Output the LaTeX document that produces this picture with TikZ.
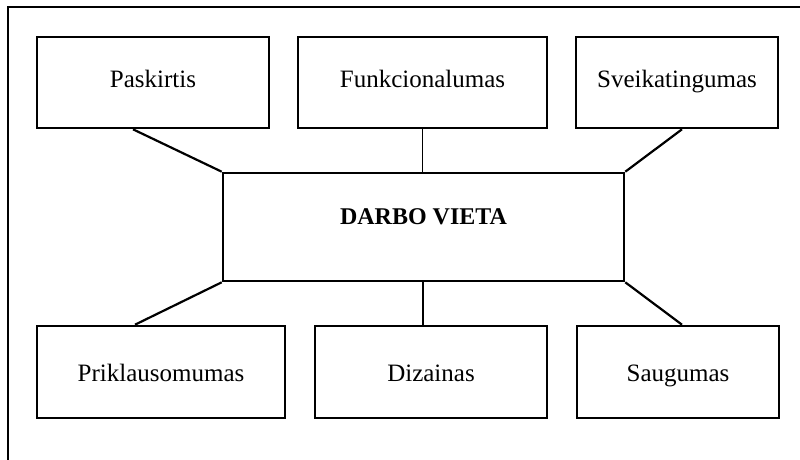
\documentclass[tikz,border=0pt]{standalone}
\usepackage{fontspec}
\setmainfont{Liberation Serif}
\usetikzlibrary{calc}
\tikzstyle{box}=[rectangle,draw=black,line width=2.6pt,inner sep=3pt,
  font=\fontsize{25}{30}\selectfont]
\tikzstyle{topbox}=[box,minimum height=91pt,text height=16.5pt,text depth=5.5pt]
\tikzstyle{botbox}=[box,minimum height=92pt,text height=21pt,text depth=3pt]
\tikzstyle{main}=[rectangle,draw=black,line width=2.6pt,
  minimum width=401pt,minimum height=108pt]
\tikzstyle{thickline}=[line width=2.2pt]
\tikzstyle{thinline}=[line width=1.3pt]
\tikzstyle{none}=[]

\begin{document}
\begin{tikzpicture}[x=1pt,y=-1pt]
            \useasboundingbox (0,0) rectangle (800,460);
            \draw [line width=2.6pt] (8,460) -- (8,7) -- (800,7);
            \node [style=main] (0) at (423.5, 227) {};
            \node [style=none, font=\fontsize{24}{28}\selectfont\bfseries] (7) at (423.5, 217) {DARBO VIETA};
            \node [style=topbox, minimum width=232pt] (1) at (153, 82.5) {Paskirtis};
            \node [style=topbox, minimum width=249pt] (2) at (422.5, 82.5) {Funkcionalumas};
            \node [style=topbox, minimum width=202pt] (3) at (677, 82.5) {Sveikatingumas};
            \node [style=botbox, minimum width=248pt] (4) at (161, 372) {Priklausomumas};
            \node [style=botbox, minimum width=232pt] (5) at (431, 372) {Dizainas};
            \node [style=botbox, minimum width=202pt] (6) at (678, 372) {Saugumas};
            \draw [style=thickline] ([xshift=-20pt]1.south) to (0.north west);
            \draw [style=thinline] (2.south) to (2.south |- 0.north);
            \draw [style=thickline] ([xshift=5pt]3.south) to (0.north east);
            \draw [style=thickline] ([xshift=-26pt]4.north) to (0.south west);
            \draw [style=thinline] ([xshift=-8pt]5.north) to ([xshift=-8pt]5.north |- 0.south);
            \draw [style=thickline] ([xshift=4pt]6.north) to (0.south east);
    \end{tikzpicture}
\end{document}
